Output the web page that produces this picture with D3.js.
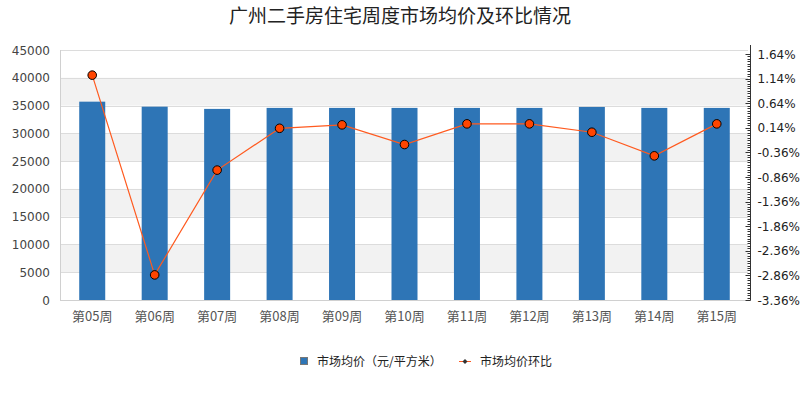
<!DOCTYPE html>
<html><head><meta charset="utf-8">
<script src="https://cdn.jsdelivr.net/npm/d3@7"></script>
<style>body{margin:0;background:#fff;}svg{display:block;font-family:"Noto Sans CJK SC","DejaVu Sans",sans-serif;}</style>
</head><body><svg id="c" width="800" height="400"></svg>
<script>
const categories = ["第05周","第06周","第07周","第08周","第09周","第10周","第11周","第12周","第13周","第14周","第15周"];
const priceValues = [35700, 34800, 34400, 34580, 34580, 34580, 34580, 34580, 34750, 34580, 34580];
const ratioValues = [1.21, -2.85, -0.72, 0.13, 0.20, -0.20, 0.22, 0.22, 0.05, -0.43, 0.22];
const leftTicks = [0,5000,10000,15000,20000,25000,30000,35000,40000,45000];
const rightTicks = [-3.36,-2.86,-2.36,-1.86,-1.36,-0.86,-0.36,0.14,0.64,1.14,1.64];
const title = "广州二手房住宅周度市场均价及环比情况";
const legendNames = ["市场均价（元/平方米）","市场均价环比"];

const svg = d3.select("#c");
const L = 61, R = 748, T = 50, B = 300;
const xc = d3.scaleBand().domain(categories).range([L, R]);
const y = d3.scaleLinear().domain([0, 45000]).range([B, T]);
const y2 = d3.scaleLinear().domain([-3.36, 1.64]).range([B, 54]);

// bands
for (let i = 0; i < leftTicks.length - 1; i++) {
  if (i % 2 === 1) {
    svg.append("rect").attr("x", L).attr("width", R - L)
      .attr("y", y(leftTicks[i+1])).attr("height", y(leftTicks[i]) - y(leftTicks[i+1]))
      .attr("fill", "#f2f2f2");
  }
}
// grid lines
svg.append("g").selectAll("line").data(leftTicks.slice(1)).join("line")
  .attr("x1", L).attr("x2", R).attr("y1", d => Math.round(y(d)) + 0.5).attr("y2", d => Math.round(y(d)) + 0.5)
  .attr("stroke", "#dcdcdc");

// bars
svg.append("g").selectAll("rect").data(priceValues).join("rect")
  .attr("x", (d, i) => xc(categories[i]) + xc.bandwidth()/2 - 13)
  .attr("width", 26)
  .attr("y", d => y(d)).attr("height", d => B - y(d))
  .attr("fill", "#2e75b6");

// axes lines
svg.append("line").attr("x1", L - 0.5).attr("x2", L - 0.5).attr("y1", T).attr("y2", B).attr("stroke", "#d0d0d0");
svg.append("line").attr("x1", L - 1).attr("x2", R).attr("y1", B + 0.5).attr("y2", B + 0.5).attr("stroke", "#d0d0d0");

// left labels
svg.append("g").selectAll("text").data(leftTicks).join("text")
  .attr("x", 50).attr("y", d => y(d) + 4.5).attr("text-anchor", "end")
  .attr("font-size", 12).attr("fill", "#444").attr("font-family", "DejaVu Sans").text(d => d);

// x labels
svg.append("g").selectAll("text").data(categories).join("text")
  .attr("x", d => xc(d) + xc.bandwidth()/2).attr("y", 321).attr("text-anchor", "middle")
  .attr("font-size", 13).attr("fill", "#555").text(d => d);

// right axis
const rAxis = svg.append("g").attr("transform", `translate(${R + 2.5},0)`);
rAxis.append("line").attr("x1", 0).attr("x2", 0).attr("y1", 45).attr("y2", B).attr("stroke", "#333");
const minor = d3.range(0, 101).map(i => -3.36 + i * 0.05).filter(v => v <= 1.72);
rAxis.selectAll("line.mi").data(minor).join("line").attr("class", "mi")
  .attr("x1", -3).attr("x2", 0).attr("y1", d => Math.round(y2(d)) + 0.5).attr("y2", d => Math.round(y2(d)) + 0.5)
  .attr("stroke", "#333");
rAxis.selectAll("line.ma").data(rightTicks).join("line").attr("class", "ma")
  .attr("x1", -5).attr("x2", 0).attr("y1", d => Math.round(y2(d)) + 0.5).attr("y2", d => Math.round(y2(d)) + 0.5)
  .attr("stroke", "#333");
rAxis.selectAll("text").data(rightTicks).join("text")
  .attr("x", 7).attr("y", d => y2(d) + 4.5).attr("font-size", 12).attr("fill", "#222")
  .attr("font-family", "DejaVu Sans").text(d => d.toFixed(2) + "%");

// line
const line = d3.line().x((d, i) => xc(categories[i]) + xc.bandwidth()/2).y(d => y2(d));
svg.append("path").datum(ratioValues).attr("d", line).attr("fill", "none").attr("stroke", "#ff5a1f").attr("stroke-width", 1.2);
svg.append("g").selectAll("circle").data(ratioValues).join("circle")
  .attr("cx", (d, i) => xc(categories[i]) + xc.bandwidth()/2).attr("cy", d => y2(d)).attr("r", 4.3)
  .attr("fill", "#ff4500").attr("stroke", "#000").attr("stroke-width", 1);

// title
svg.append("text").attr("x", 400).attr("y", 23).attr("text-anchor", "middle")
  .attr("font-size", 19).attr("fill", "#222").text(title);

// legend
svg.append("rect").attr("x", 300.5).attr("y", 357.5).attr("width", 7).attr("height", 7)
  .attr("fill", "#2e75b6").attr("stroke", "#777");
svg.append("text").attr("x", 317).attr("y", 366).attr("font-size", 12).attr("fill", "#222").text(legendNames[0]);
svg.append("line").attr("x1", 459).attr("x2", 471).attr("y1", 361.5).attr("y2", 361.5).attr("stroke", "#ff5a1f");
svg.append("path").attr("d", "M465,359 L467.5,361.5 L465,364 L462.5,361.5Z").attr("fill", "#333");
svg.append("text").attr("x", 480).attr("y", 366).attr("font-size", 12).attr("fill", "#222").text(legendNames[1]);
</script></body></html>
